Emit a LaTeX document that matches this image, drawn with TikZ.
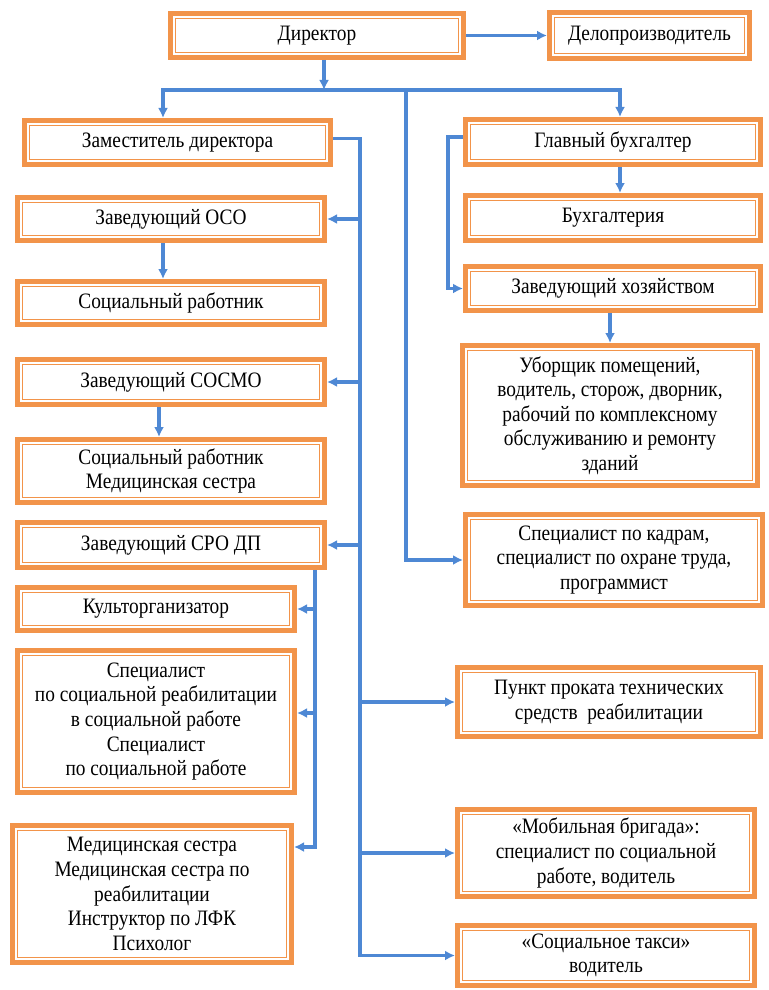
\documentclass[tikz,border=0pt]{standalone}
\usepackage{fontspec}
\setmainfont{Liberation Serif}[FakeStretch=0.88]
\usetikzlibrary{arrows.meta}
\definecolor{boxorange}{RGB}{242,148,74}
\definecolor{lineblue}{RGB}{78,136,212}

\begin{document}
\begin{tikzpicture}[x=0.5pt,y=-0.5pt,
    orgbox/.style={draw=boxorange, line width=2.5pt, fill=white, align=center,
        inner sep=1pt, font=\fontsize{11}{12.3}\selectfont,
        path picture={\draw[boxorange, line width=0.5pt]
            ([shift={(2.6pt,-2.6pt)}]path picture bounding box.north west) rectangle
            ([shift={(-2.6pt,2.6pt)}]path picture bounding box.south east);}},
    conn/.style={draw=lineblue, line width=1.6pt},
    arr/.style={conn, -{Latex[length=5pt,width=5pt]}}]
                \useasboundingbox (0,0) rectangle (768,990);

                % top level
                \node[orgbox, minimum width=146.5pt, minimum height=22pt] (dir) at (317,35.5) {Директор};
                \node[orgbox, minimum width=100pt, minimum height=23pt] (delo) at (649.5,35.5) {Делопроизводитель};

                % left column
                \node[orgbox, minimum width=153pt, minimum height=22pt] (zam) at (177.5,142.5) {Заместитель директора};
                \node[orgbox, minimum width=153.5pt, minimum height=21.5pt] (oso) at (171,219) {Заведующий ОСО};
                \node[orgbox, minimum width=153.5pt, minimum height=21.5pt] (sotsrab) at (171,303) {Социальный работник};
                \node[orgbox, minimum width=153.5pt, minimum height=22.5pt] (sosmo) at (171,382) {Заведующий СОСМО};
                \node[orgbox, minimum width=153.5pt, minimum height=31.5pt] (sotsmed) at (171,471) {Социальный работник\\Медицинская сестра};
                \node[orgbox, minimum width=153.5pt, minimum height=22.5pt] (sro) at (171,545) {Заведующий СРО ДП};
                \node[orgbox, minimum width=138.5pt, minimum height=21.5pt] (kult) at (156,609) {Культорганизатор};
                \node[orgbox, minimum width=138.5pt, minimum height=71pt] (spec) at (156,721.5) {Специалист\\по социальной реабилитации\\в социальной работе\\Специалист\\по социальной работе};
                \node[orgbox, minimum width=139.5pt, minimum height=68.5pt] (med) at (152,894) {Медицинская сестра\\Медицинская сестра по\\реабилитации\\Инструктор по ЛФК\\Психолог};

                % right column
                \node[orgbox, minimum width=147.5pt, minimum height=22.5pt] (glbuh) at (613,142) {Главный бухгалтер};
                \node[orgbox, minimum width=147.5pt, minimum height=22.5pt] (buh) at (613,218) {Бухгалтерия};
                \node[orgbox, minimum width=147.5pt, minimum height=22pt] (hoz) at (613,288.5) {Заведующий хозяйством};
                \node[orgbox, minimum width=147.5pt, minimum height=70pt] (uborsh) at (610,415.5) {Уборщик помещений,\\водитель, сторож, дворник,\\рабочий по комплексному\\обслуживанию и ремонту\\зданий};
                \node[orgbox, minimum width=148.5pt, minimum height=45.5pt] (kadr) at (614,560) {Специалист по кадрам,\\специалист по охране труда,\\программист};
                \node[orgbox, minimum width=151.5pt, minimum height=34.5pt] (prokat) at (609,702) {Пункт проката технических\\средств\ \ реабилитации};
                \node[orgbox, minimum width=148.5pt, minimum height=43.5pt] (mob) at (606,853) {«Мобильная бригада»:\\специалист по социальной\\работе, водитель};
                \node[orgbox, minimum width=148.5pt, minimum height=30pt] (taxi) at (606,955.5) {«Социальное такси»\\водитель};

                % branch points
                \coordinate (hub) at (324,90);
                \coordinate (bl) at (163,90);
                \coordinate (br) at (620,90);
                \coordinate (bm) at (406,90);
                \coordinate (trunk) at (360,0);
                \coordinate (sub) at (315,0);
                \coordinate (lb) at (448,0);

                \draw[arr] (dir) -- (delo);
                \draw[arr] (dir.south -| hub) -- (hub);
                \draw[arr] (hub) -| (zam.north -| bl);
                \draw[arr] (hub) -| (glbuh.north -| br);
                \draw[arr] (bm) |- (kadr.west);

                % deputy
                \draw[arr] ([yshift=2pt]zam.east) -| (taxi.west -| trunk) -- (taxi.west);
                \draw[arr] (oso.east -| trunk) -- (oso.east);
                \draw[arr] (sosmo.east -| trunk) -- (sosmo.east);
                \draw[arr] (sro.east -| trunk) -- (sro.east);
                \draw[arr] (prokat.west -| trunk) -- (prokat.west);
                \draw[arr] (mob.west -| trunk) -- (mob.west);

                \draw[arr] (oso.south -| bl) -- (sotsrab.north -| bl);
                \draw[arr] ([xshift=-2pt]sosmo.south -| bl) -- ([xshift=-2pt]sotsmed.north -| bl);

                % SRO DP
                \draw[arr] (sro.south -| sub) |- ([yshift=23.5pt]med.east);
                \draw[arr] (kult.east -| sub) -- (kult.east);
                \draw[arr] ([yshift=4.25pt]spec.east -| sub) -- ([yshift=4.25pt]spec.east);

                % accountant
                \draw[arr] (glbuh.south -| br) -- (buh.north -| br);
                \draw[arr] ([yshift=2.5pt]glbuh.west) -- ([yshift=2.5pt]glbuh.west -| lb) |- (hoz.west);
                \draw[arr] (hoz.south -| uborsh.north) -- (uborsh.north);
            \end{tikzpicture}
\end{document}
